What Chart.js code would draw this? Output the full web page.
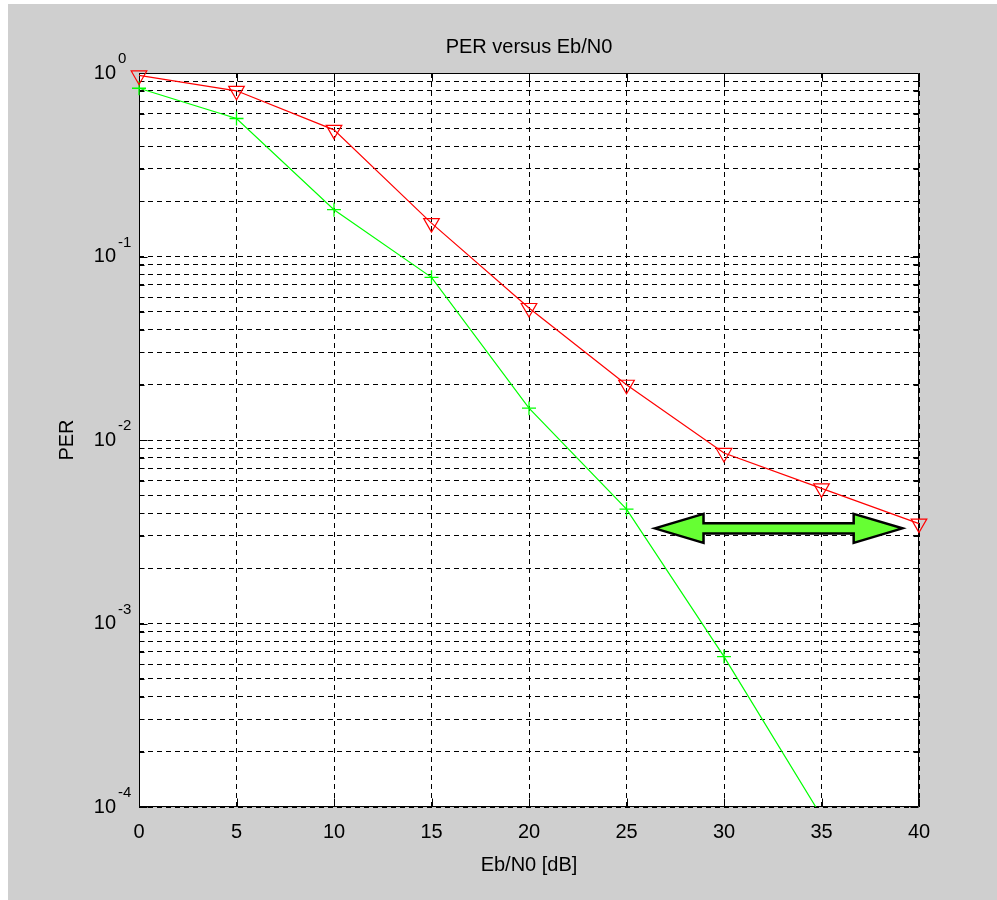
<!DOCTYPE html>
<html><head><meta charset="utf-8">
<script src="https://cdn.jsdelivr.net/npm/chart.js@4/dist/chart.umd.min.js"></script>
<style>
html,body{margin:0;padding:0;background:#fff;overflow:hidden;}
#bg{position:absolute;left:8px;top:4px;width:989px;height:896px;background:#cfcfcf;}
#plotbg{position:absolute;left:0;top:0;width:0;height:0;background:#ffffff;}
#wrap{position:absolute;left:0;top:0;width:997px;height:900px;}
</style></head><body>
<div id="bg"></div>
<div id="plotbg"></div>
<div id="wrap"><canvas id="c" width="997" height="900"></canvas></div>
<script>
// ---- data ----
const ebn0 = [0, 5, 10, 15, 20, 25, 30, 35, 40];
const perRed = [0.97, 0.80, 0.49, 0.152, 0.0524, 0.0200, 0.0085, 0.00545, 0.00350];
const perGreen = [0.826, 0.565, 0.180, 0.077, 0.0149, 0.0042, 0.00066, 0.000089];
const xTicks = [0, 5, 10, 15, 20, 25, 30, 35, 40];
const yTicks = [
  0.0001, 0.0002, 0.0003, 0.0004, 0.0005, 0.0006, 0.0007, 0.0008, 0.0009,
  0.001, 0.002, 0.003, 0.004, 0.005, 0.006, 0.007, 0.008, 0.009,
  0.01, 0.02, 0.03, 0.04, 0.05, 0.06, 0.07, 0.08, 0.09,
  0.1, 0.2, 0.3, 0.4, 0.5, 0.6, 0.7, 0.8, 0.9, 1
];
const yMajorTicks = [0.0001, 0.001, 0.01, 0.1, 1];
const yMajorExponents = ['-4', '-3', '-2', '-1', '0'];
const chartTitle = 'PER versus Eb/N0';
const xLabel = 'Eb/N0 [dB]';
const yLabel = 'PER';
const xRange = [0, 40];
const yRange = [0.0001, 1];
// double arrow annotation (data units)
const arrowFromTo = [26.45, 39.15];
const arrowHeadLen = 2.5;
const arrowAt = 0.0033;

const FONT = "'Liberation Sans', Arial, Helvetica, sans-serif";

function plotBox(chart) {
  const xs = chart.scales.x, ys = chart.scales.y;
  return {
    left: xs.getPixelForValue(xRange[0]), right: xs.getPixelForValue(xRange[1]),
    top: ys.getPixelForValue(yRange[1]), bottom: ys.getPixelForValue(yRange[0])
  };
}

const decor = {
  id: 'decor',
  beforeDatasetsDraw(chart) {
    const ctx = chart.ctx, a = plotBox(chart);
    const xs = chart.scales.x, ys = chart.scales.y;
    ctx.save();
    ctx.strokeStyle = '#000';
    ctx.lineWidth = 1;
    ctx.setLineDash([]);
    const L = Math.round(a.left) + 0.5, R = Math.round(a.right) - 0.5;
    const T = Math.round(a.top) + 0.5, B = Math.round(a.bottom) - 0.5;
    ctx.beginPath();
    xTicks.forEach(v => {
      const px = Math.round(xs.getPixelForValue(v)) + 0.5;
      ctx.moveTo(px, B); ctx.lineTo(px, B - 8);
      ctx.moveTo(px, T); ctx.lineTo(px, T + 8);
    });
    yTicks.forEach(v => {
      const py = Math.round(ys.getPixelForValue(v)) + 0.5;
      const len = yMajorTicks.includes(v) ? 8 : 5;
      ctx.moveTo(L, py); ctx.lineTo(L + len, py);
      ctx.moveTo(R, py); ctx.lineTo(R - len, py);
    });
    ctx.moveTo(L, T); ctx.lineTo(R, T); ctx.lineTo(R, B); ctx.lineTo(L, B); ctx.closePath();
    ctx.stroke();
    ctx.fillStyle = '#000';
    ctx.textBaseline = 'middle';
    yMajorTicks.forEach((v, i) => {
      const py = ys.getPixelForValue(v);
      ctx.font = '20px ' + FONT;
      ctx.textAlign = 'right';
      ctx.fillText('10', 116, py);
      ctx.font = '15px ' + FONT;
      ctx.textAlign = 'left';
      ctx.fillText(yMajorExponents[i], 118, py - 14);
    });
    ctx.font = '20px ' + FONT;
    ctx.textAlign = 'center';
    ctx.fillText(chartTitle, (a.left + a.right) / 2, 47);
    ctx.restore();
  },
  afterDraw(chart) {
    const ctx = chart.ctx, a = plotBox(chart);
    const xs = chart.scales.x, ys = chart.scales.y;
    ctx.save();
    ctx.globalCompositeOperation = 'destination-over';
    ctx.fillStyle = '#ffffff';
    ctx.fillRect(a.left, a.top, a.right - a.left, a.bottom - a.top);
    ctx.globalCompositeOperation = 'source-over';
    const x1 = xs.getPixelForValue(arrowFromTo[0]);
    const x2 = xs.getPixelForValue(arrowFromTo[1]);
    const h1 = xs.getPixelForValue(arrowFromTo[0] + arrowHeadLen);
    const h2 = xs.getPixelForValue(arrowFromTo[1] - arrowHeadLen);
    const y = ys.getPixelForValue(arrowAt);
    const hh = 14.5, sh = 5.2;
    ctx.beginPath();
    ctx.moveTo(x1, y);
    ctx.lineTo(h1, y - hh); ctx.lineTo(h1, y - sh);
    ctx.lineTo(h2, y - sh); ctx.lineTo(h2, y - hh);
    ctx.lineTo(x2, y);
    ctx.lineTo(h2, y + hh); ctx.lineTo(h2, y + sh);
    ctx.lineTo(h1, y + sh); ctx.lineTo(h1, y + hh);
    ctx.closePath();
    ctx.fillStyle = '#66ff33';
    ctx.fill();
    ctx.lineWidth = 2.5;
    ctx.lineJoin = 'miter';
    ctx.strokeStyle = '#000';
    ctx.stroke();
    ctx.restore();
  }
};

const chart = new Chart(document.getElementById('c'), {
  type: 'line',
  data: {
    datasets: [
      {
        data: ebn0.map((x, i) => ({x, y: perRed[i]})),
        borderColor: '#ff0000', borderWidth: 1.2,
        pointStyle: 'triangle', pointRotation: 180, pointRadius: 9,
        pointBorderColor: '#ff0000', pointBackgroundColor: 'rgba(0,0,0,0)', pointBorderWidth: 1.2,
        tension: 0, clip: {left: 12, top: 12, right: 12, bottom: 0}
      },
      {
        data: perGreen.map((y, i) => ({x: ebn0[i], y})),
        borderColor: '#00ff00', borderWidth: 1.2,
        pointStyle: 'cross', pointRadius: 7,
        pointBorderColor: '#00ff00', pointBackgroundColor: '#00ff00', pointBorderWidth: 1.3,
        tension: 0, clip: {left: 12, top: 12, right: 12, bottom: 0}
      }
    ]
  },
  options: {
    responsive: false, animation: false,
    layout: {padding: {left: 0, right: 78, top: 73, bottom: 0}},
    plugins: {
      legend: {display: false}, tooltip: {enabled: false}, title: {display: false}
    },
    scales: {
      x: {
        type: 'linear', min: xRange[0], max: xRange[1],
        afterBuildTicks: s => { s.ticks = xTicks.map(v => ({value: v})); },
        grid: {color: '#000', lineWidth: 1, drawTicks: false},
        border: {display: false, dash: [5, 4]},
        ticks: {color: '#000', font: {family: FONT, size: 20}, padding: 13, maxRotation: 0, autoSkip: false},
        title: {display: true, text: xLabel, color: '#000', font: {family: FONT, size: 20}, padding: {top: 0, bottom: 23}},
        afterFit: s => { s.height = 93; }
      },
      y: {
        type: 'logarithmic', min: yRange[0], max: yRange[1],
        afterBuildTicks: s => { s.ticks = yTicks.map(v => ({value: v})); },
        grid: {color: '#000', lineWidth: 1, drawTicks: false},
        border: {display: false, dash: [5, 4]},
        ticks: {display: false, autoSkip: false},
        title: {display: true, text: yLabel, color: '#000', font: {family: FONT, size: 20}, padding: {top: 55, bottom: 0}},
        afterFit: s => { s.width = 139; }
      }
    }
  },
  plugins: [decor]
});

// white plot-area backdrop placed under the canvas, sized from the chart's own scales
(function () {
  const a = plotBox(chart);
  const d = document.getElementById('plotbg');
  d.style.left = Math.round(a.left) + 'px';
  d.style.top = Math.round(a.top) + 'px';
  d.style.width = Math.round(a.right - a.left) + 'px';
  d.style.height = Math.round(a.bottom - a.top) + 'px';
})();
</script>
</body></html>
